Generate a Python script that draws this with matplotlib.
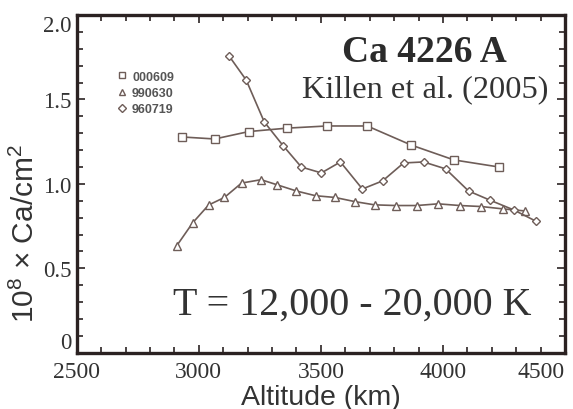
import numpy as np
import matplotlib.pyplot as plt
from matplotlib.lines import Line2D
from matplotlib.ticker import MultipleLocator

# 000609 (squares)
sq_alt = [2930, 3065, 3205, 3360, 3525, 3690, 3870, 4045, 4230]
sq_col = [1.278, 1.266, 1.31, 1.33, 1.343, 1.343, 1.23, 1.142, 1.10]

# 990630 (triangles)
tr_alt = [2910, 2975, 3040, 3105, 3175, 3255, 3320, 3400, 3478, 3557,
          3640, 3720, 3807, 3892, 3980, 4070, 4158, 4246, 4336]
tr_col = [0.635, 0.77, 0.875, 0.92, 1.005, 1.025, 0.995, 0.958, 0.93, 0.92,
          0.895, 0.876, 0.872, 0.872, 0.882, 0.872, 0.866, 0.852, 0.84]

# 960719 (diamonds)
di_alt = [3124, 3194, 3268, 3346, 3420, 3502, 3580, 3670, 3753, 3839,
          3921, 4011, 4105, 4194, 4290, 4380]
di_col = [1.757, 1.615, 1.367, 1.225, 1.10, 1.065, 1.13, 0.97, 1.018, 1.124,
          1.13, 1.089, 0.958, 0.903, 0.846, 0.78]

series_names = ['000609', '990630', '960719']
x_ticks = [2500, 3000, 3500, 4000, 4500]
x_tick_labels = ['2500', '3000', '3500', '4000', '4500']
y_ticks = [0, 0.5, 1.0, 1.5, 2.0]
y_tick_labels = ['0', '0.5', '1.0', '1.5', '2.0']

line_c = '#6e5d58'
frame_c = '#2b2222'
text_c = '#333333'
serif = ['Liberation Serif', 'DejaVu Serif']
sans = ['Liberation Sans', 'DejaVu Sans']

plt.rcParams['mathtext.fontset'] = 'custom'
plt.rcParams['mathtext.rm'] = 'Liberation Sans'
plt.rcParams['mathtext.it'] = 'Liberation Sans'

fig = plt.figure(figsize=(5.73, 4.10), dpi=100)
ax = fig.add_axes([0.134, 0.137, 0.852, 0.824])

style = dict(color=line_c, lw=1.2, mfc='white', mec=line_c, mew=1.0)
ax.plot(sq_alt, sq_col, marker='s', ms=5.5, **style)
ax.plot(tr_alt, tr_col, marker='^', ms=5.5, **style)
ax.plot(di_alt, di_col, marker='D', ms=4.5, **style)

ax.set_xlim(2500, 4500)
ax.set_ylim(0, 2.0)
ax.set_xticks(x_ticks, x_tick_labels)
ax.set_yticks(y_ticks, y_tick_labels)
ax.xaxis.set_minor_locator(MultipleLocator(100))
ax.yaxis.set_minor_locator(MultipleLocator(0.1))

for s in ax.spines.values():
    s.set_linewidth(2.4)
    s.set_color(frame_c)
ax.tick_params(which='both', direction='in', top=True, right=True,
               color=frame_c, width=1.2)
ax.tick_params(which='major', length=6)
ax.tick_params(which='minor', length=4)
ax.tick_params(axis='x', which='major', pad=6)

for lab in ax.get_xticklabels():
    lab.set_family(serif)
    lab.set_fontsize(17)
    lab.set_color(text_c)
    if lab.get_text() == '4500':
        lab.set_ha('right')

for lab in ax.get_yticklabels():
    lab.set_family(serif)
    lab.set_fontsize(16.5)
    lab.set_color(text_c)
    if lab.get_text() == '0':
        lab.set_va('bottom')
    elif lab.get_text() == '2.0':
        lab.set_va('top')

ax.set_xlabel('Altitude (km)', family=sans, fontsize=20.5, color=text_c,
              labelpad=1)
fig.text(25 / 573, 1 - 233 / 410, '10$^{8}$ \u00d7 Ca/cm$^{2}$', family=sans,
         fontsize=21.5, color=text_c, rotation=90, ha='center', va='center')

ax.text(0.713, 0.893, 'Ca 4226 A', transform=ax.transAxes, family=serif,
        fontsize=27, fontweight='bold', color='#2b2b2b', ha='center', va='center')
ax.text(0.713, 0.781, 'Killen et al. (2005)', transform=ax.transAxes, family=serif,
        fontsize=23.3, color=text_c, ha='center', va='center')
ax.text(0.5645, 0.145, 'T = 12,000 - 20,000 K', transform=ax.transAxes,
        family=serif, fontsize=28.8, color=text_c, ha='center', va='center')

handles = [Line2D([], [], ls='none', marker=m, ms=ms, mfc='white', mec=line_c,
                  mew=1.0) for m, ms in [('s', 5), ('^', 5), ('D', 4)]]
ax.legend(handles, series_names, loc='upper left', bbox_to_anchor=(0.08, 0.835),
          frameon=False, prop={'family': sans, 'size': 9, 'weight': 'bold'},
          handletextpad=0.3, labelspacing=0.35, handlelength=1.0,
          borderaxespad=0, borderpad=0, labelcolor='#555555')

fig.savefig('out.png', dpi=100)
